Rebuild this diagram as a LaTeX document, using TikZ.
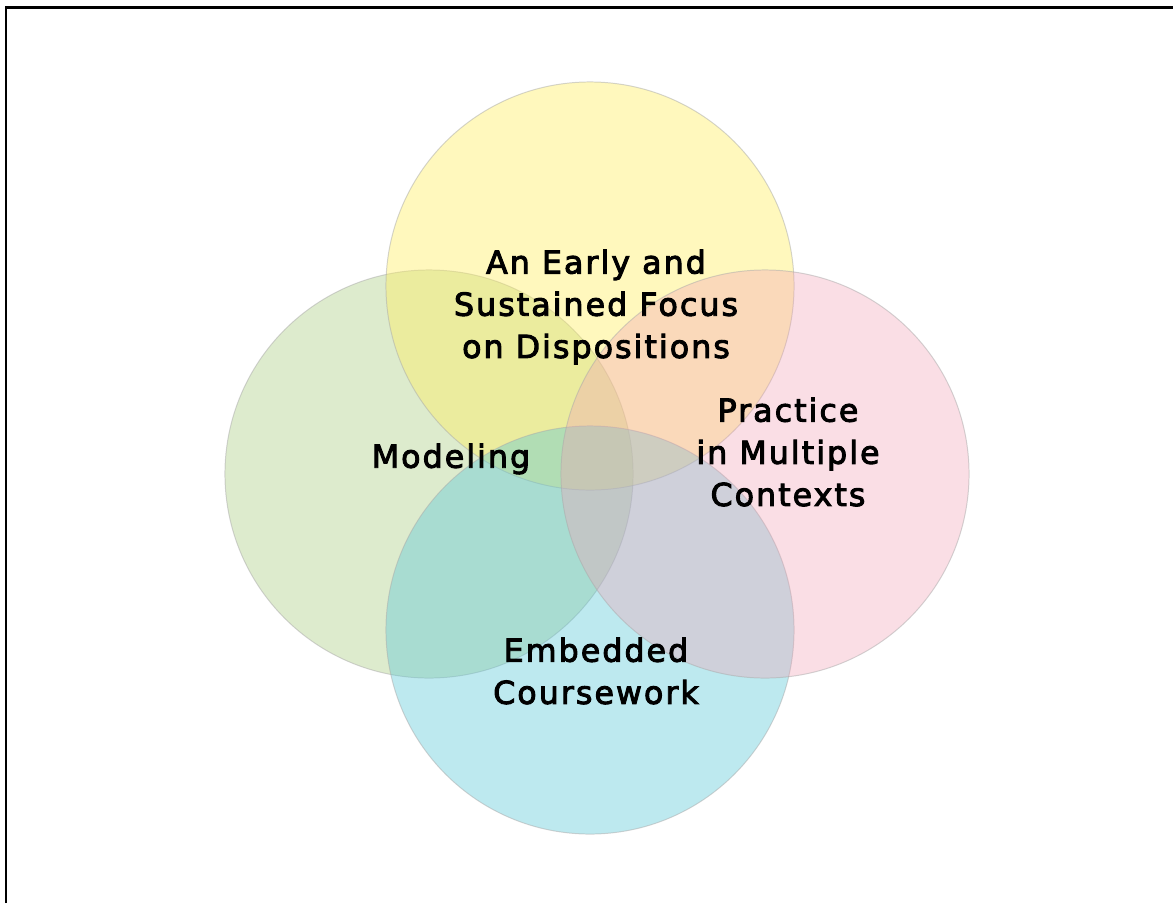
\documentclass[tikz,border=0pt]{standalone}
\usepackage{fontspec}
\setmainfont{DejaVu Sans}[LetterSpace=6.5, FakeBold=3]
\usepackage{xcolor}
\usepackage{tikz}
\usetikzlibrary{positioning}
\definecolor{focusyellow}{RGB}{255,238,90}
\definecolor{modelgreen}{RGB}{170,205,130}
\definecolor{practicepink}{RGB}{240,160,180}
\definecolor{courseblue}{RGB}{90,200,215}
\definecolor{rimgray}{RGB}{170,170,170}
\tikzset{
  venn/.style={circle, minimum size=10.2cm, draw=rimgray, draw opacity=0.5, line width=0.7pt, fill opacity=0.4},
  tag/.style={align=center, font=\fontsize{22.5}{30}\selectfont, text=black}
}

\begin{document}
\begin{tikzpicture}[x=0.025cm, y=-0.025cm]
        \useasboundingbox (0,0) rectangle (1173,903);
        % Frame, open on the right and at the bottom
        \coordinate (frame_bl) at (6,903);
        \coordinate (frame_tl) at (6,7.5);
        \coordinate (frame_tr) at (1173,7.5);
        \draw[line width=1.8pt] (frame_bl) -- (frame_tl) -- (frame_tr);

        % The four circles
        \node (modeling_c) [venn, fill=modelgreen] at (429,474) {};
        \node (focus_c) [venn, fill=focusyellow] at (590,286) {};
        \node (course_c) [venn, fill=courseblue] at (590,630) {};
        \node (practice_c) [venn, fill=practicepink, fill opacity=0.35] at (765,474) {};

        % Labels
        \node (focus_l) [tag] at (596,307) {An Early and\\Sustained Focus\\on Dispositions};
        \node (modeling_l) [tag] at (451,459) {Modeling};
        \node (practice_l) [tag] at (788,452) {Practice\\in Multiple\\Contexts};
        \node (course_l) [tag] at (596,671) {Embedded\\Coursework};
    \end{tikzpicture}
\end{document}
